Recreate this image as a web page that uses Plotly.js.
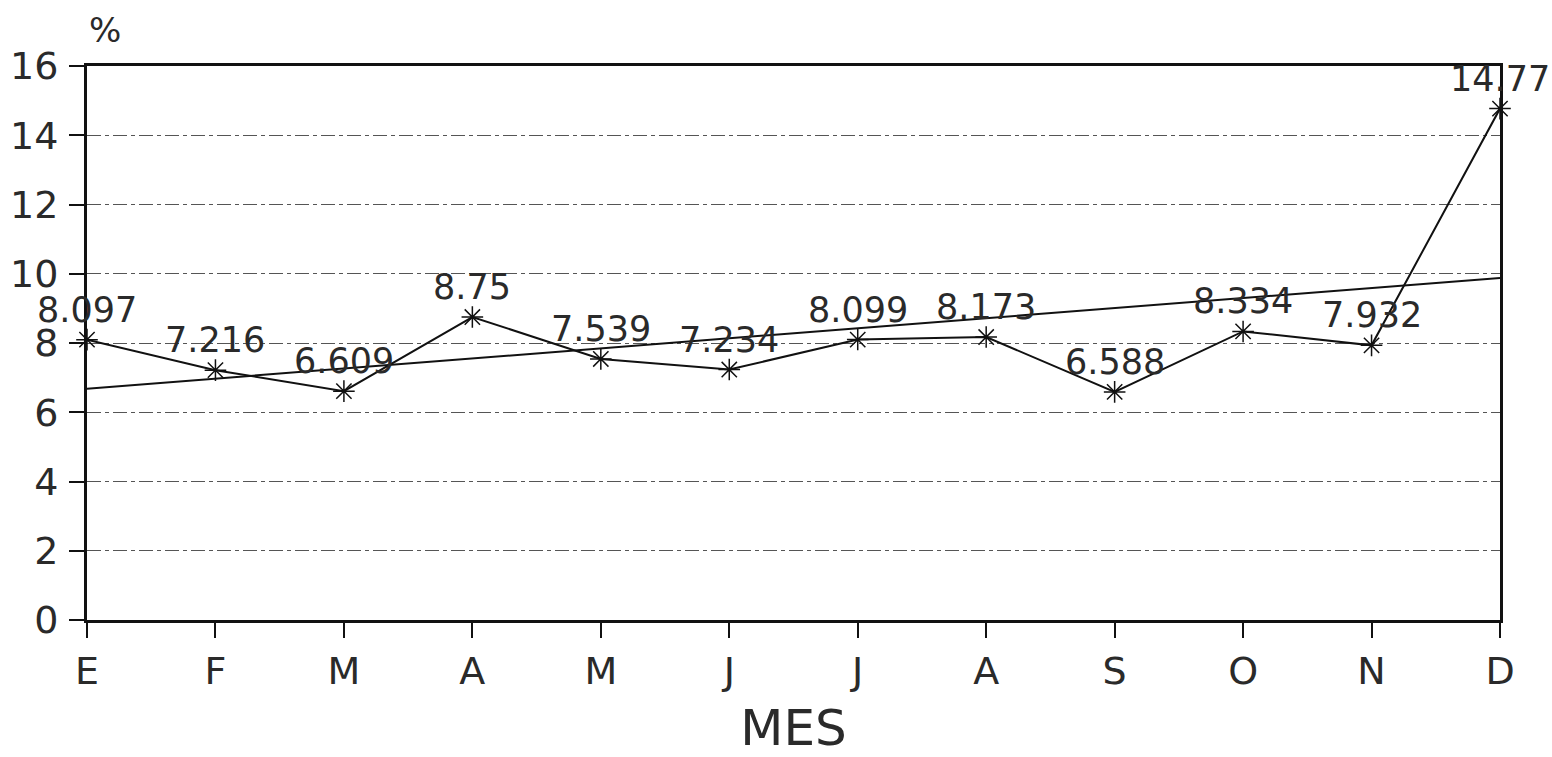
<!DOCTYPE html>
<html>
<head>
<meta charset="utf-8">
<script src="https://cdn.plot.ly/plotly-3.0.1.min.js"></script>
<style>html,body{margin:0;padding:0;background:#fff;}#chart{width:1552px;height:757px;}</style>
</head>
<body>
<div id="chart"></div>
<script>
const months = ["E","F","M","A","M ","J","J ","A ","S","O","N","D"];
const monthLabels = ["E","F","M","A","M","J","J","A","S","O","N","D"];
const values = [8.097, 7.216, 6.609, 8.75, 7.539, 7.234, 8.099, 8.173, 6.588, 8.334, 7.932, 14.77];
const valueLabels = ["8.097","7.216","6.609","8.75","7.539","7.234","8.099","8.173","6.588","8.334","7.932","14.77"];
const trendMonths = ["E","D"];
const trendValues = [6.68, 9.88];
const yTicks = [0,2,4,6,8,10,12,14,16];

const FONT = "DejaVu Sans, Liberation Sans, Arial, sans-serif";
const TXT = "#2a2a2a";

const traces = [
  {
    x: trendMonths, y: trendValues, type: "scatter", mode: "lines",
    line: {color: "#111", width: 2}, hoverinfo: "skip", cliponaxis: false
  },
  {
    x: months, y: values, type: "scatter", mode: "lines+markers",
    line: {color: "#111", width: 2},
    marker: {symbol: "asterisk-open", size: 18, color: "#111", line: {color: "#111", width: 1.5}},
    cliponaxis: false
  }
];

const annotations = values.map((v, i) => ({
  x: months[i], y: v, xref: "x", yref: "y",
  text: valueLabels[i], showarrow: false,
  xanchor: "center", yanchor: "bottom", yshift: 8,
  font: {family: FONT, size: 35, color: TXT}
}));
annotations.push({
  xref: "paper", yref: "paper", x: 0.0, y: 1, yshift: 14, xshift: 0,
  text: "%", showarrow: false, xanchor: "left", yanchor: "bottom",
  font: {family: FONT, size: 34, color: TXT}
});

const layout = {
  width: 1552, height: 757,
  margin: {l: 87, r: 52, t: 66, b: 137},
  paper_bgcolor: "#fff", plot_bgcolor: "#fff",
  showlegend: false,
  font: {family: FONT, color: TXT},
  xaxis: {
    type: "category", categoryorder: "array", categoryarray: months,
    range: [0, 11],
    tickvals: months, ticktext: monthLabels,
    showgrid: false, zeroline: false,
    showline: true, linecolor: "#111", linewidth: 3, mirror: true,
    ticks: "outside", ticklen: 15, tickwidth: 2, tickcolor: "#111",
    tickfont: {family: FONT, size: 38, color: TXT},
    automargin: false,
    title: {text: "MES", font: {family: FONT, size: 50, color: TXT}, standoff: 40}
  },
  yaxis: {
    range: [0, 16], tickvals: yTicks, ticktext: yTicks.map(String),
    showgrid: true, gridcolor: "#555", gridwidth: 1, griddash: "14px,4px,4px,4px",
    zeroline: false,
    showline: true, linecolor: "#111", linewidth: 3, mirror: true,
    ticks: "outside", ticklen: 15, tickwidth: 2, tickcolor: "#111",
    ticklabelstandoff: 3,
    tickfont: {family: FONT, size: 38, color: TXT}
  },
  annotations: annotations
};

Plotly.newPlot("chart", traces, layout, {displayModeBar: false, staticPlot: true});
</script>
</body>
</html>
